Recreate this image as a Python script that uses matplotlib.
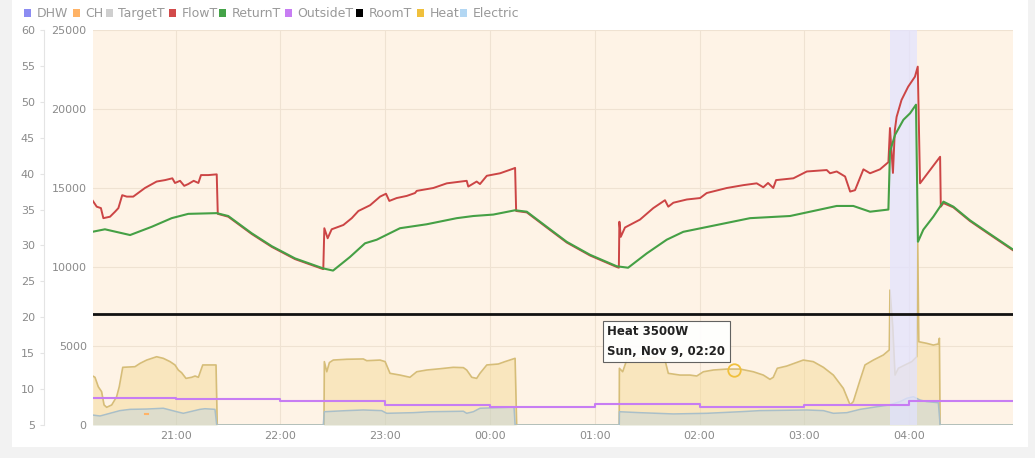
import matplotlib
matplotlib.use("Agg")
import matplotlib.pyplot as plt
from matplotlib.patches import Rectangle

plt.rcParams['font.family'] = ['DejaVu Sans']

W, H = 1035, 458

# time axis: minutes after 20:00
t_start, t_end = 12.6, 539.6
hour_ticks = [60, 120, 180, 240, 300, 360, 420, 480]
hour_labels = ['21:00', '22:00', '23:00', '00:00', '01:00', '02:00', '03:00', '04:00']

# FlowT (degC)
flow_t = [12.4, 14.9, 17.3, 18.7, 22.5, 25.4, 27.3, 29.5, 32.1, 35.8,
          42.5, 49.2, 54.0, 58.2, 59.7, 62.6, 65.0, 67.3, 70.4, 73.1,
          74.6, 78.8, 83.6, 84.2, 90.2, 103.6, 115.1, 128.4, 144.6, 145.2,
          147.1, 149.4, 156.1, 160.9, 164.7, 171.4, 177.1, 180.5, 182.4, 186.6,
          192.4, 197.1, 198.1, 207.6, 215.3, 226.7, 227.6, 232.4, 234.3, 238.2,
          245.8, 253.4, 254.4, 255.0, 261.1, 272.5, 284.0, 297.3, 312.6, 313.8,
          314.1, 314.9, 317.3, 325.9, 333.5, 340.2, 342.1, 345.0, 352.7, 360.3,
          364.1, 375.6, 385.1, 392.7, 396.5, 399.2, 402.2, 403.8, 413.7, 421.4,
          432.8, 434.7, 438.5, 443.3, 446.2, 449.0, 453.8, 457.6, 463.3, 468.1,
          469.0, 470.7, 471.8, 472.8, 475.6, 479.4, 483.3, 484.9, 486.2, 497.7,
          498.1, 499.6, 505.3, 514.8, 524.4, 539.6]
flow_v = [36.3, 35.4, 35.2, 33.8, 34.0, 34.7, 35.2, 37.0, 36.8, 36.8,
          38.0, 38.9, 39.1, 39.35, 38.7, 39.0, 38.3, 38.55, 39.0, 38.7,
          39.8, 39.8, 39.9, 34.4, 34.0, 31.6, 29.8, 28.1, 26.7, 32.4,
          31.0, 32.25, 32.85, 33.8, 34.8, 35.6, 36.8, 37.2, 36.2, 36.6,
          36.9, 37.3, 37.6, 38.0, 38.65, 39.0, 38.2, 38.9, 38.55, 39.7,
          40.05, 40.7, 40.8, 34.8, 34.6, 32.5, 30.4, 28.6, 27.0, 26.9,
          33.3, 31.2, 32.5, 33.6, 35.2, 36.3, 35.4, 35.95, 36.4, 36.6,
          37.3, 38.0, 38.4, 38.65, 38.1, 38.7, 38.0, 39.1, 39.35, 40.3,
          40.5, 40.05, 40.3, 39.6, 37.5, 37.7, 40.6, 40.05, 40.6, 41.6,
          46.35, 40.1, 46.1, 47.9, 50.25, 52.1, 53.5, 54.9, 38.65, 42.35,
          35.4, 35.9, 35.3, 33.4, 31.8, 29.3]

# ReturnT (degC)
ret_t = [12.4, 19.6, 25.9, 34.0, 46.4, 57.8, 67.3, 83.6, 90.2, 103.6,
         115.1, 128.4, 144.6, 150.2, 159.9, 168.5, 175.2, 188.5, 203.8, 221.0,
         230.5, 241.9, 254.4, 261.1, 272.5, 284.0, 297.3, 312.6, 319.1, 329.8,
         341.2, 350.7, 369.8, 388.9, 411.8, 427.1, 438.5, 448.0, 457.6, 468.1,
         469.0, 471.9, 476.7, 480.5, 483.9, 485.0, 488.1, 493.8, 499.6, 505.3,
         514.8, 524.4, 539.6]
ret_v = [31.9, 32.25, 31.9, 31.45, 32.6, 33.8, 34.4, 34.5, 34.1, 31.7,
         29.9, 28.2, 26.8, 26.5, 28.4, 30.3, 30.8, 32.4, 32.95, 33.8,
         34.1, 34.3, 34.9, 34.7, 32.6, 30.5, 28.7, 27.1, 26.9, 28.9,
         30.8, 31.9, 32.85, 33.8, 34.1, 34.9, 35.5, 35.5, 34.7, 35.0,
         43.05, 45.4, 47.5, 48.4, 49.6, 30.5, 32.2, 34.0, 36.1, 35.4,
         33.5, 31.9, 29.4]

# OutsideT (degC), hourly steps
out_t = [12.6, 60, 120, 180, 240, 300, 360, 420, 480, 539.6]
out_v = [8.7, 8.6, 8.35, 7.85, 7.45, 7.9, 7.45, 7.75, 8.4, 8.4]

# RoomT (degC)
room_t = [12.6, 539.6]
room_v = [20.5, 20.5]

# CH blip
ch_t = [42.5, 44.5]
ch_v = [6.5, 6.5]

# Heat output (W)
heat_t = [12.6, 13.9, 15.8, 17.7, 19.1, 20.6, 23.5, 26.3, 27.8, 29.8,
          36.8, 39.7, 43.5, 49.2, 53.0, 56.9, 59.7, 61.6, 63.5, 66.0,
          69.3, 71.2, 73.1, 75.6, 83.2, 83.9, 145.0, 145.2, 146.6, 148.1,
          150.3, 158.0, 167.5, 169.5, 177.1, 180.0, 182.8, 188.5, 194.2, 198.1,
          203.8, 211.4, 219.0, 224.8, 226.7, 229.6, 232.4, 234.3, 238.2, 244.8,
          248.6, 254.4, 255.3, 314.0, 314.1, 316.0, 318.3, 324.0, 335.5, 340.2,
          342.1, 348.8, 354.5, 358.4, 362.2, 367.9, 375.6, 383.2, 390.8, 396.5,
          400.3, 402.2, 404.5, 409.9, 419.4, 425.1, 430.9, 436.6, 442.3, 446.2,
          448.0, 451.9, 454.7, 459.5, 465.2, 468.6, 469.0, 470.6, 471.9, 473.8,
          477.6, 481.5, 484.3, 484.9, 485.5, 490.0, 493.8, 496.7, 497.3, 497.7,
          539.6]
heat_w = [3100, 3020, 2420, 2110, 1270, 1120, 1270, 1790, 2420, 3650,
          3690, 3900, 4110, 4320, 4220, 4010, 3800, 3480, 3310, 2950,
          3020, 3100, 3020, 3800, 3800, 0, 0, 4010, 3370, 3950,
          4110, 4160, 4180, 4070, 4110, 4010, 3270, 3160, 3020, 3370,
          3480, 3560, 3650, 3630, 3480, 3020, 2950, 3270, 3800, 3860,
          4010, 4220, 0, 0, 3590, 3370, 4110, 4220, 4260, 4110,
          3270, 3160, 3160, 3100, 3370, 3480, 3540, 3540, 3370, 3160,
          2890, 3020, 3590, 3730, 4110, 4010, 3650, 3160, 2320, 1270,
          1480, 2850, 3800, 4110, 4430, 4750, 8540, 6220, 3160, 3590,
          3800, 4010, 4320, 11500, 5270, 5170, 5060, 5130, 5490, 0,
          0]

# Electric input (W)
elec_t = [12.6, 16.8, 22.5, 28.2, 34.0, 43.5, 53.0, 56.9, 60.7, 64.5,
          68.3, 74.0, 76.9, 82.6, 83.6, 144.6, 145.2, 158.0, 167.5, 178.0,
          180.9, 196.1, 205.7, 224.8, 226.7, 230.5, 234.3, 251.5, 253.8, 254.4,
          314.0, 314.1, 325.9, 345.0, 364.1, 383.2, 394.6, 421.4, 430.9, 436.6,
          444.3, 451.9, 459.5, 468.6, 474.8, 478.6, 482.4, 486.2, 490.0, 496.7,
          497.7, 539.6]
elec_w = [630, 570, 740, 910, 990, 1010, 1060, 950, 840, 740,
          840, 990, 1030, 990, 0, 0, 840, 910, 950, 910,
          740, 780, 840, 870, 740, 840, 1060, 1120, 1120, 0,
          0, 840, 780, 700, 740, 840, 910, 950, 910, 740,
          780, 990, 1120, 1270, 1480, 1690, 1790, 1580, 1480, 1410,
          0, 0]

# DHW run
dhw_on, dhw_off = 469.0, 484.3

# hover tooltip
tip_t, tip_w = 380, 3500
tip_text = "Heat 3500W\nSun, Nov 9, 02:20"

legend_names = ['DHW', 'CH', 'TargetT', 'FlowT', 'ReturnT', 'OutsideT', 'RoomT', 'Heat', 'Electric']
legend_colors = ['#8c8cf2', '#ffb366', '#cfcfcf', '#d24a4a', '#44a348',
                 '#c77df3', '#000000', '#f0c03c', '#b3d7f3']
legend_x = [24, 73, 106, 169, 219, 285, 356, 417, 460]

fig = plt.figure(figsize=(W / 100, H / 100), dpi=100, facecolor='#f2f2f2')
fig.add_artist(Rectangle((12 / W, 1 - 447 / H), 1016 / W, 447 / H,
                         transform=fig.transFigure, facecolor='white',
                         edgecolor='none', zorder=-1))

ax = fig.add_axes([92.7 / W, 1 - 425 / H, 920.6 / W, 395 / H])
ax.set_facecolor('#fef3e6')
for s in ax.spines.values():
    s.set_visible(False)

# power series
ax.fill_between(heat_t, heat_w, 0, color='#f5d88e', alpha=0.45, lw=0, zorder=1)
ax.plot(heat_t, heat_w, color='#d6bd78', lw=1.2, zorder=2)
ax.fill_between(elec_t, elec_w, 0, color='#a6cdea', alpha=0.32, lw=0, zorder=2.2)
ax.plot(elec_t, elec_w, color='#a9bfc9', lw=1.1, zorder=2.3)
ax.axvspan(dhw_on, dhw_off, color='#e2e3ff', alpha=0.75, lw=0, zorder=2.5)

ax.set_xlim(t_start, t_end)
ax.set_ylim(0, 25000)
ax.set_yticks(range(0, 25001, 5000))
ax.set_xticks(hour_ticks)
ax.set_xticklabels(hour_labels)
ax.grid(True, color='#efe2d2', lw=0.8)
ax.set_axisbelow(True)
ax.tick_params(axis='both', length=0, labelcolor='#8a8a8a', labelsize=8)
ax.tick_params(axis='y', pad=4.3)
ax.tick_params(axis='x', pad=4)

# temperature axis
ax_t = ax.twinx()
ax_t.yaxis.set_ticks_position('left')
ax_t.yaxis.set_label_position('left')
for name, s in ax_t.spines.items():
    s.set_visible(name == 'left')
ax_t.spines['left'].set_position(('outward', 35))
ax_t.spines['left'].set_color('#e4e4e4')
ax_t.set_ylim(5, 60)
ax_t.set_yticks(range(5, 61, 5))
ax_t.tick_params(axis='y', length=3, color='#e4e4e4', labelcolor='#8a8a8a',
                 labelsize=8, pad=3.6)

ax_t.plot(out_t, out_v, color='#c77df3', lw=1.5, drawstyle='steps-post', zorder=3)
ax_t.plot(ch_t, ch_v, color='#ffb366', lw=1.5, zorder=3)
ax_t.plot(flow_t, flow_v, color='#cc4545', lw=1.4, zorder=4)
ax_t.plot(ret_t, ret_v, color='#45a045', lw=1.5, zorder=5)
ax_t.plot(room_t, room_v, color='#111111', lw=2.0, zorder=6)

# tooltip
ax.plot(tip_t, tip_w, 'o', mfc='none', mec='#f0c03c', ms=9, mew=1.3, zorder=7)
ax_t.annotate(tip_text, xy=(tip_t, 5 + tip_w / 25000 * 55), xytext=(-127, 45),
              textcoords='offset pixels', ha='left', va='top',
              fontsize=8.5, fontweight='bold', color='#222222', linespacing=1.75,
              bbox=dict(boxstyle='square,pad=0.35', facecolor='white', alpha=0.92,
                        edgecolor='#555555', lw=0.8), zorder=10)

# legend row
for x, name, col in zip(legend_x, legend_names, legend_colors):
    fig.add_artist(Rectangle((x / W, 1 - 17.3 / H), 6.5 / W, 8.3 / H,
                             transform=fig.transFigure, facecolor=col,
                             edgecolor='none'))
    fig.text((x + 12.5) / W, 1 - 13.3 / H, name, fontsize=9, color='#999999',
             va='center', ha='left')

fig.savefig('out.png', dpi=100, facecolor=fig.get_facecolor())
